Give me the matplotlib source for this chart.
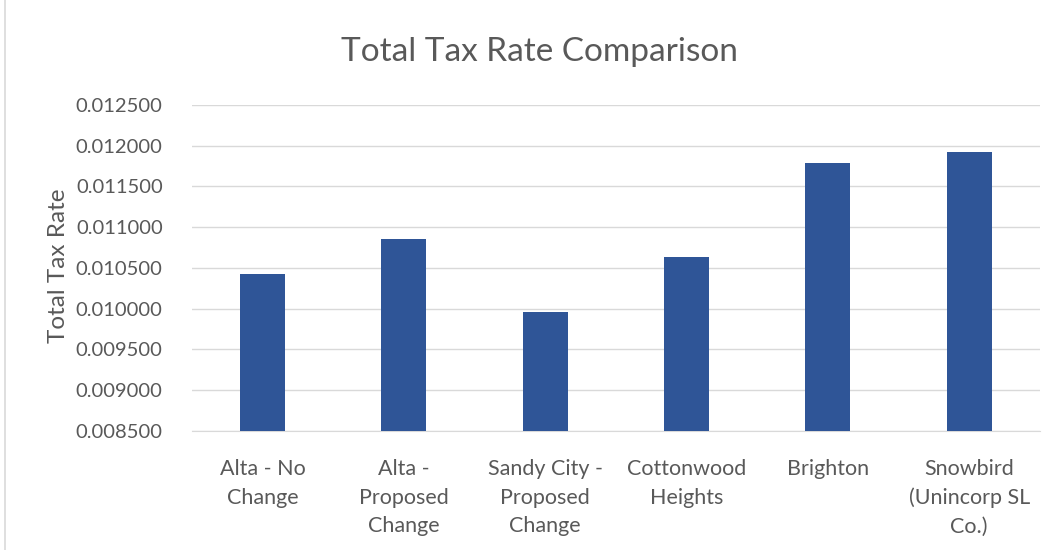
import matplotlib.pyplot as plt
import matplotlib.patches as mpatches

plt.rcParams['font.family'] = ['Lato', 'DejaVu Sans']

# data
categories = ['Alta - No\nChange', 'Alta -\nProposed\nChange', 'Sandy City -\nProposed\nChange',
              'Cottonwood\nHeights', 'Brighton', 'Snowbird\n(Unincorp SL\nCo.)']
rates = [0.010426, 0.010856, 0.009956, 0.010631, 0.011788, 0.011923]
yticks = [0.0085, 0.0090, 0.0095, 0.0100, 0.0105, 0.0110, 0.0115, 0.0120, 0.0125]

txt = '#595959'
fig = plt.figure(figsize=(10.6, 5.5), dpi=100)
ax = fig.add_axes([0.181, 0.2164, 0.800, 0.5927])

x = range(len(categories))
ax.bar(x, rates, width=0.32, color='#2F5597', zorder=3)
ax.set_ylim(0.0085, 0.0125)
ax.set_xlim(-0.5, len(categories) - 0.5)
ax.set_yticks(yticks)
ax.set_yticklabels([f'{v:.6f}' for v in yticks], fontsize=14.5, color=txt)
ax.set_xticks(list(x))
ax.set_xticklabels(categories, fontsize=15.5, color=txt, linespacing=1.55, va='top')
ax.tick_params(axis='both', length=0)
ax.tick_params(axis='x', pad=20)
ax.tick_params(axis='y', pad=21)
ax.grid(axis='y', color='#D9D9D9', linewidth=1, zorder=0)
for s in ['top', 'right', 'left']:
    ax.spines[s].set_visible(False)
ax.spines['bottom'].set_color('#D9D9D9')

ax.set_ylabel('Total Tax Rate', fontsize=17.5, color=txt)
ax.yaxis.set_label_coords(-0.145, 0.506)
fig.text(0.509, 0.905, 'Total Tax Rate Comparison', fontsize=24, color=txt, ha='center', va='center')

# chart border
fig.patches.append(mpatches.Rectangle((0.005, -0.01), 1.1, 1.2, transform=fig.transFigure,
                                      fill=False, edgecolor='#D9D9D9', linewidth=1.2))

fig.savefig('out.png', dpi=100)
